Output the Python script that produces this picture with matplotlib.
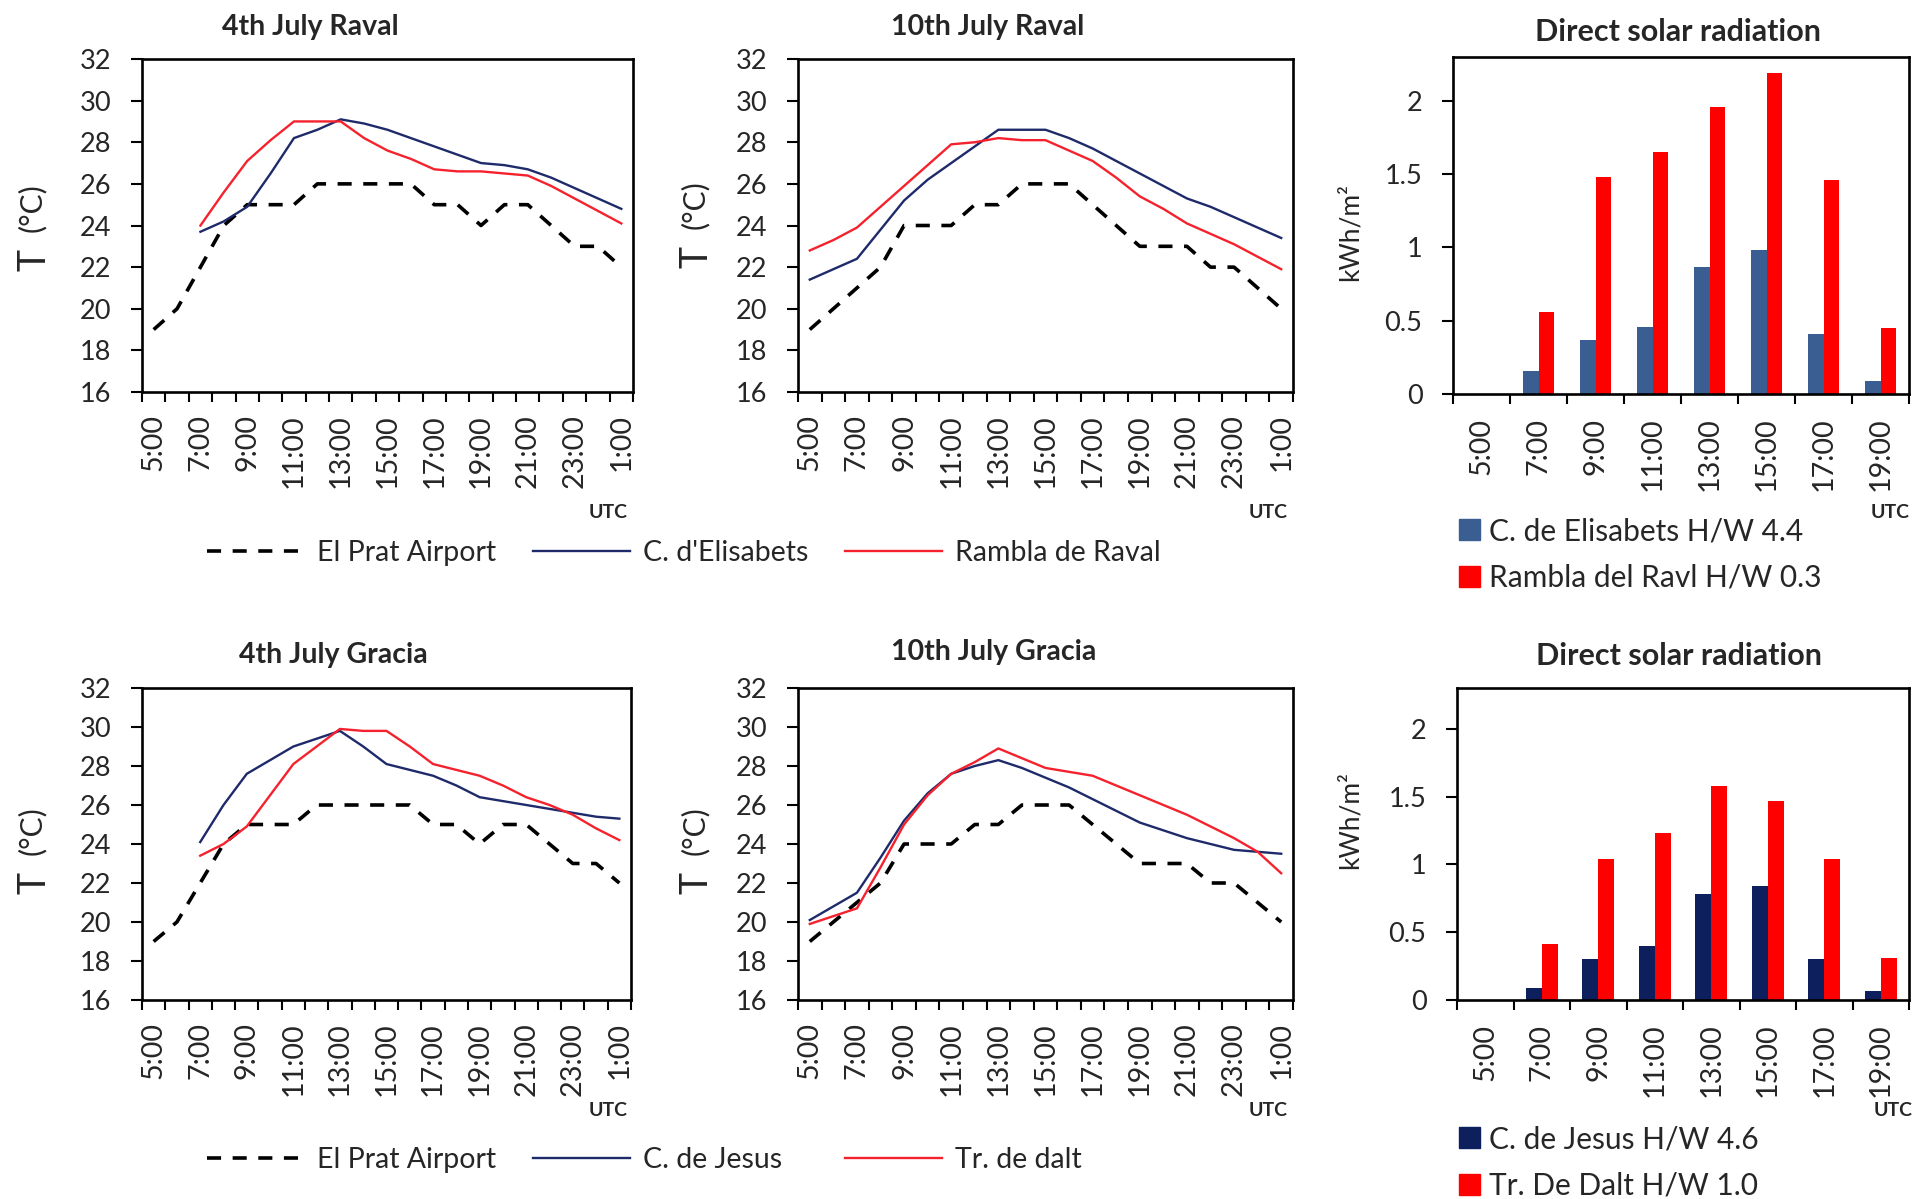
# air temperature at street level vs El Prat airport + direct solar radiation
import matplotlib
matplotlib.use("Agg")
import matplotlib.pyplot as plt
from matplotlib.lines import Line2D
from matplotlib.patches import Patch

plt.rcParams['font.family'] = ['Lato', 'DejaVu Sans']

# hourly categories 5:00 ... 1:00 (UTC)
hours = ["5:00", "6:00", "7:00", "8:00", "9:00", "10:00", "11:00", "12:00", "13:00",
         "14:00", "15:00", "16:00", "17:00", "18:00", "19:00", "20:00", "21:00",
         "22:00", "23:00", "0:00", "1:00"]

# El Prat airport
airport_4 = [19, 20, 22, 24, 25, 25, 25, 26, 26, 26, 26, 26, 25, 25, 24, 25, 25, 24, 23, 23, 22]
airport_10 = [19, 20, 21, 22, 24, 24, 24, 25, 25, 26, 26, 26, 25, 24, 23, 23, 23, 22, 22, 21, 20]

# Raval
elisabets_4 = [None, None, 23.7, 24.2, 24.9, 26.5, 28.2, 28.6, 29.1, 28.9, 28.6, 28.2, 27.8,
               27.4, 27.0, 26.9, 26.7, 26.3, 25.8, 25.3, 24.8]
rambla_4 = [None, None, 24.0, 25.6, 27.1, 28.1, 29.0, 29.0, 29.0, 28.2, 27.6, 27.2, 26.7,
            26.6, 26.6, 26.5, 26.4, 25.9, 25.3, 24.7, 24.1]
elisabets_10 = [21.4, 21.9, 22.4, 23.8, 25.2, 26.2, 27.0, 27.8, 28.6, 28.6, 28.6, 28.2, 27.7,
                27.1, 26.5, 25.9, 25.3, 24.9, 24.4, 23.9, 23.4]
rambla_10 = [22.8, 23.3, 23.9, 24.9, 25.9, 26.9, 27.9, 28.0, 28.2, 28.1, 28.1, 27.6, 27.1,
             26.3, 25.4, 24.8, 24.1, 23.6, 23.1, 22.5, 21.9]

# Gracia
jesus_4 = [None, None, 24.1, 26.0, 27.6, 28.3, 29.0, 29.4, 29.8, 29.0, 28.1, 27.8, 27.5,
           27.0, 26.4, 26.2, 26.0, 25.8, 25.6, 25.4, 25.3]
dalt_4 = [None, None, 23.4, 24.0, 24.9, 26.5, 28.1, 29.0, 29.9, 29.8, 29.8, 29.0, 28.1,
          27.8, 27.5, 27.0, 26.4, 26.0, 25.5, 24.8, 24.2]
jesus_10 = [20.1, 20.8, 21.5, 23.3, 25.2, 26.6, 27.6, 28.0, 28.3, 27.9, 27.4, 26.9, 26.3,
            25.7, 25.1, 24.7, 24.3, 24.0, 23.7, 23.6, 23.5]
dalt_10 = [19.9, 20.3, 20.7, 22.8, 25.0, 26.5, 27.6, 28.2, 28.9, 28.4, 27.9, 27.7, 27.5,
           27.0, 26.5, 26.0, 25.5, 24.9, 24.3, 23.6, 22.5]

# direct solar radiation (kWh/m2)
rad_hours = ["5:00", "7:00", "9:00", "11:00", "13:00", "15:00", "17:00", "19:00"]
rad_elisabets = [0, 0.16, 0.37, 0.46, 0.87, 0.98, 0.41, 0.09]
rad_rambla = [0, 0.56, 1.48, 1.65, 1.96, 2.19, 1.46, 0.45]
rad_jesus = [0, 0.09, 0.30, 0.40, 0.78, 0.84, 0.30, 0.07]
rad_dalt = [0, 0.41, 1.04, 1.23, 1.58, 1.47, 1.04, 0.31]

W, H = 1919, 1199
NAVY = "#1e2a6a"
RED = "#f5222d"
TXT = "#262626"
DASH = (3.9, 3.2)


def rect(l, r, t, b):
    return [l / W, 1 - b / H, (r - l) / W, (b - t) / H]


def ftext(x, y, s, **kw):
    fig.text(x / W, 1 - y / H, s, **kw)


def style(ax, xpad):
    for sp in ax.spines.values():
        sp.set_linewidth(1.9)
        sp.set_color("black")
    ax.tick_params(axis="y", direction="out", length=8, width=1.5, labelsize=19.5,
                   labelcolor=TXT, pad=14)
    ax.tick_params(axis="x", which="major", length=0, labelsize=20.7, labelcolor=TXT, pad=xpad)
    ax.tick_params(axis="x", which="minor", direction="out", length=7.5, width=1.5)


def line_panel(r, airport, blue, red):
    ax = fig.add_axes(rect(*r))
    x = list(range(len(hours)))
    ax.plot(x, airport, color="black", lw=2.6, dashes=DASH)
    ax.plot(x, blue, color=NAVY, lw=1.7)
    ax.plot(x, red, color=RED, lw=1.7)
    ax.set_xlim(-0.5, len(hours) - 0.5)
    ax.set_ylim(16, 32)
    ax.set_yticks(range(16, 33, 2))
    ax.set_xticks(x[::2])
    ax.set_xticklabels(hours[::2], rotation=90)
    ax.set_xticks([i - 0.5 for i in range(len(hours) + 1)], minor=True)
    style(ax, 16)
    return ax


def bar_panel(r, blue, red, bcolor):
    ax = fig.add_axes(rect(*r))
    x = list(range(len(rad_hours)))
    w = 0.28
    ax.bar([i - w / 2 for i in x], blue, width=w, color=bcolor)
    ax.bar([i + w / 2 for i in x], red, width=w, color="#ff0000")
    ax.set_xlim(-0.5, len(rad_hours) - 0.5)
    ax.set_ylim(0, 2.3)
    ax.set_yticks([0, 0.5, 1, 1.5, 2])
    ax.set_yticklabels(["0", "0.5", "1", "1.5", "2"])
    ax.set_xticks(x)
    ax.set_xticklabels(rad_hours, rotation=90)
    ax.set_xticks([i - 0.5 for i in range(len(rad_hours) + 1)], minor=True)
    style(ax, 17)
    return ax


fig = plt.figure(figsize=(W / 100, H / 100), dpi=100)

line_panel((142, 633, 59, 392), airport_4, elisabets_4, rambla_4)
line_panel((798, 1293, 59, 392), airport_10, elisabets_10, rambla_10)
bar_panel((1453, 1909, 57, 394), rad_elisabets, rad_rambla, "#3a5d92")
line_panel((142, 631, 688, 1000), airport_4, jesus_4, dalt_4)
line_panel((798, 1293, 688, 1000), airport_10, jesus_10, dalt_10)
bar_panel((1457, 1909, 688, 1000), rad_jesus, rad_dalt, "#0d1f5c")

# titles
tkw = dict(ha="center", va="center", fontsize=20.5, fontweight="bold", color=TXT)
ftext(310, 27, "4th July Raval", **tkw)
ftext(988, 27, "10th July Raval", **tkw)
ftext(333, 655, "4th July Gracia", **tkw)
ftext(994, 652, "10th July Gracia", **tkw)
tkw["fontsize"] = 22
ftext(1678, 32, "Direct solar radiation", **tkw)
ftext(1679, 656, "Direct solar radiation", **tkw)

# y labels: big "T", smaller unit
for lx, ly in [(32, 232), (695, 229), (32, 855), (695, 855)]:
    ftext(lx + 2, ly + 28, "T", ha="center", va="center", rotation=90, fontsize=27, color=TXT)
    ftext(lx, ly - 24, "(°C)", ha="center", va="center", rotation=90, fontsize=21.5,
          color=TXT)
bkw = dict(ha="center", va="center", rotation=90, fontsize=19, color=TXT)
ftext(1350, 232, "kWh/m²", **bkw)
ftext(1350, 820, "kWh/m²", **bkw)

# UTC
ukw = dict(ha="center", va="center", fontsize=14, fontweight="bold", color=TXT)
for ux, uy in [(608, 512), (1268, 512), (1890, 512), (608, 1111), (1268, 1111), (1893, 1111)]:
    ftext(ux, uy, "UTC", **ukw)


# legends for line charts, one entry each (Excel spreads them on fixed slots)
def line_legend(y, names):
    handles = [Line2D([], [], color="black", lw=2.6, dashes=DASH),
               Line2D([], [], color=NAVY, lw=1.7),
               Line2D([], [], color=RED, lw=1.7)]
    for hx, h, name in zip([207, 533, 845], handles, names):
        fig.legend([h], [name], loc="center left", bbox_to_anchor=(hx / W, 1 - y / H),
                   frameon=False, fontsize=20.5, handlelength=3.4, handletextpad=0.45,
                   labelcolor=TXT, borderpad=0, borderaxespad=0)


line_legend(553, ["El Prat Airport", "C. d'Elisabets", "Rambla de Raval"])
line_legend(1160, ["El Prat Airport", "C. de Jesus", "Tr. de dalt"])


# legends for bar charts
def bar_legend(x, y, names, bcolor):
    handles = [Patch(color=bcolor), Patch(color="#ff0000")]
    fig.legend(handles, names, loc="upper left", bbox_to_anchor=(x / W, 1 - y / H),
               frameon=False, fontsize=21.5, handlelength=0.7, handleheight=0.7,
               handletextpad=0.3, labelspacing=0.63, labelcolor=TXT, borderpad=0,
               borderaxespad=0)


bar_legend(1459, 517, ["C. de Elisabets H/W 4.4", "Rambla del Ravl H/W 0.3"], "#3a5d92")
bar_legend(1459, 1125, ["C. de Jesus H/W 4.6", "Tr. De Dalt H/W 1.0"], "#0d1f5c")

fig.savefig("out.png", dpi=100)
